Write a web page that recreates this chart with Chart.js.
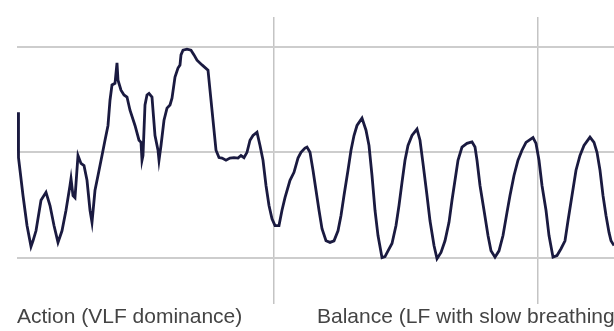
<!DOCTYPE html>
<html>
<head>
<meta charset="utf-8">
<script src="https://cdn.jsdelivr.net/npm/chart.js@4"></script>
<style>
  html, body { margin: 0; padding: 0; background: #fff; }
  #wrap { width: 614px; height: 331px; position: relative; }
</style>
</head>
<body>
<div id="wrap"><canvas id="hrvChart"></canvas></div>
<script>
// time (s) of each reading
var times = [
  0.5, 0.75, 1.5, 3, 5, 7, 8, 9.5, 12, 14.5, 16.5, 18.5, 20.5, 22.5, 24.5, 26.5, 27, 28, 29, 30.5,
  32, 33.5, 35, 36.5, 37.5, 39, 40.5, 42.5, 44, 45.5, 46.5, 47.5, 49, 50, 50.5, 52, 53.5, 55, 56.5, 59,
  61, 62, 62.5, 63, 64, 65, 66, 67.5, 68, 69, 70.5, 71, 72, 73.5, 75, 76.5, 77.5, 79, 80.5, 81.5,
  82, 83, 85, 87, 88.5, 90, 92.5, 95.5, 96.5, 97.5, 98.5, 99.5, 101, 102.5, 104.5, 106.5, 108.5, 110.5, 112, 113.5,
  115, 116.5, 118, 120, 121.5, 123, 124.5, 126, 127.5, 129, 131, 132.5, 134, 136.5, 138.5, 140.5, 142, 144, 145, 146.5,
  148, 149.5, 151, 152.5, 154.5, 156.5, 158.5, 160.5, 162, 163.5, 165.5, 167, 168.5, 170, 172.5, 174.5, 176, 177.5, 179, 180.5,
  182.5, 184, 185.5, 187.5, 189.5, 191, 192.5, 194, 195.5, 197.5, 200, 201.5, 203, 205, 206.5, 208.5, 210, 212, 214, 216,
  217.5, 219, 220.5, 222.5, 225, 227.5, 229, 230, 231.5, 233.5, 235.5, 237, 239, 241, 243, 245, 246.5, 248.5, 250.5, 252.5,
  254.5, 258, 259.5, 261, 262.5, 264.5, 266, 268, 270, 272, 274, 275.5, 277.5, 279.5, 281.5, 283.5, 286.5, 288.5, 290, 291.5,
  293, 294.5, 296, 297, 298.5
];

// heart rate (bpm) at each time
var heartRate = [
  87.6, 79.0, 76.6, 71.8, 66.1, 62.1, 63.2, 65.1, 70.9, 72.4, 69.9, 66.1, 62.9, 65.1, 69.0, 73.7, 75.0, 71.8, 71.4, 79.4,
  77.9, 77.5, 74.7, 69.0, 66.7, 72.8, 75.6, 79.4, 82.3, 85.1, 89.9, 92.8, 93.1, 97.0, 93.7, 91.8, 90.9, 90.5, 88.0, 85.1,
  82.3, 81.9, 78.5, 79.4, 89.0, 90.9, 91.2, 90.5, 88.0, 83.2, 80.4, 78.5, 81.3, 86.1, 88.4, 89.0, 90.3, 94.3, 96.0, 96.6,
  98.5, 99.4, 99.6, 99.4, 98.5, 97.5, 96.6, 95.6, 91.8, 88.0, 84.2, 80.4, 79.0, 78.9, 78.5, 78.9, 79.0, 78.9, 79.4, 79.0,
  80.0, 82.3, 83.2, 83.8, 81.3, 78.5, 73.7, 69.9, 67.4, 66.1, 66.1, 69.0, 71.4, 74.7, 76.2, 78.9, 80.0, 80.8, 81.0, 80.0,
  76.6, 72.8, 69.0, 65.5, 63.2, 62.9, 63.2, 65.1, 68.0, 71.8, 76.6, 80.4, 83.2, 85.1, 86.5, 84.2, 81.3, 75.6, 69.0, 64.2,
  60.0, 60.2, 61.3, 62.7, 66.1, 69.9, 74.3, 78.5, 81.3, 83.2, 84.4, 82.3, 77.9, 71.8, 67.0, 62.3, 59.8, 61.0, 63.2, 66.7,
  70.9, 74.7, 78.5, 81.0, 81.7, 82.0, 81.0, 78.5, 73.7, 69.0, 64.2, 61.3, 60.1, 61.3, 64.2, 68.6, 71.8, 75.6, 78.5, 80.4,
  81.9, 82.8, 81.7, 78.5, 73.7, 69.0, 64.2, 60.1, 60.4, 61.7, 63.2, 67.0, 71.8, 76.6, 79.4, 81.3, 82.9, 81.9, 80.0, 76.6,
  71.8, 68.0, 64.8, 63.2, 62.3
];

var hrTicks = [60, 80, 100];
var phaseBreaks = [128.5, 260.5];
var phaseStarts = [0, 150];
var phaseLabels = ['Action (VLF dominance)', 'Balance (LF with slow breathing)'];

var points = times.map(function (t, i) { return { x: t, y: heartRate[i] }; });

var ctx = document.getElementById('hrvChart').getContext('2d');

new Chart(ctx, {
    type: 'line',
    data: {
        datasets: [{
            data: points,
            borderColor: '#1a1a40',
            borderWidth: 2.8,
            pointRadius: 0,
            tension: 0,
            fill: false
        }]
    },
    options: {
        responsive: true,
        maintainAspectRatio: false,
        animation: false,
        layout: { padding: { top: 17, left: 17, right: 0, bottom: 0 } },
        plugins: {
            legend: { display: false },
            tooltip: { enabled: false }
        },
        scales: {
            x: {
                type: 'linear',
                min: 0,
                max: 298.5,
                afterBuildTicks: function (axis) {
                    var vals = phaseStarts.concat(phaseBreaks).sort(function (a, b) { return a - b; });
                    axis.ticks = vals.map(function (v) { return { value: v }; });
                },
                border: { display: false },
                grid: {
                    drawTicks: false,
                    lineWidth: 1.5,
                    color: function (c) {
                        return (c.tick && phaseBreaks.indexOf(c.tick.value) >= 0) ? '#c4c4c4' : 'rgba(0,0,0,0)';
                    }
                },
                ticks: {
                    autoSkip: false,
                    maxRotation: 0,
                    minRotation: 0,
                    align: 'start',
                    padding: 3,
                    color: '#444',
                    font: { family: 'Arial, "Liberation Sans", sans-serif', size: 21, lineHeight: 1.0 },
                    callback: function (value) {
                        var k = phaseStarts.indexOf(value);
                        return k >= 0 ? phaseLabels[k] : '';
                    }
                }
            },
            y: {
                min: 51.2,
                max: 105.7,
                afterBuildTicks: function (axis) {
                    axis.ticks = hrTicks.map(function (v) { return { value: v }; });
                },
                border: { display: false },
                grid: { drawTicks: false, color: '#cdcdcd', lineWidth: 2 },
                ticks: { display: false }
            }
        }
    }
});
</script>
</body>
</html>
